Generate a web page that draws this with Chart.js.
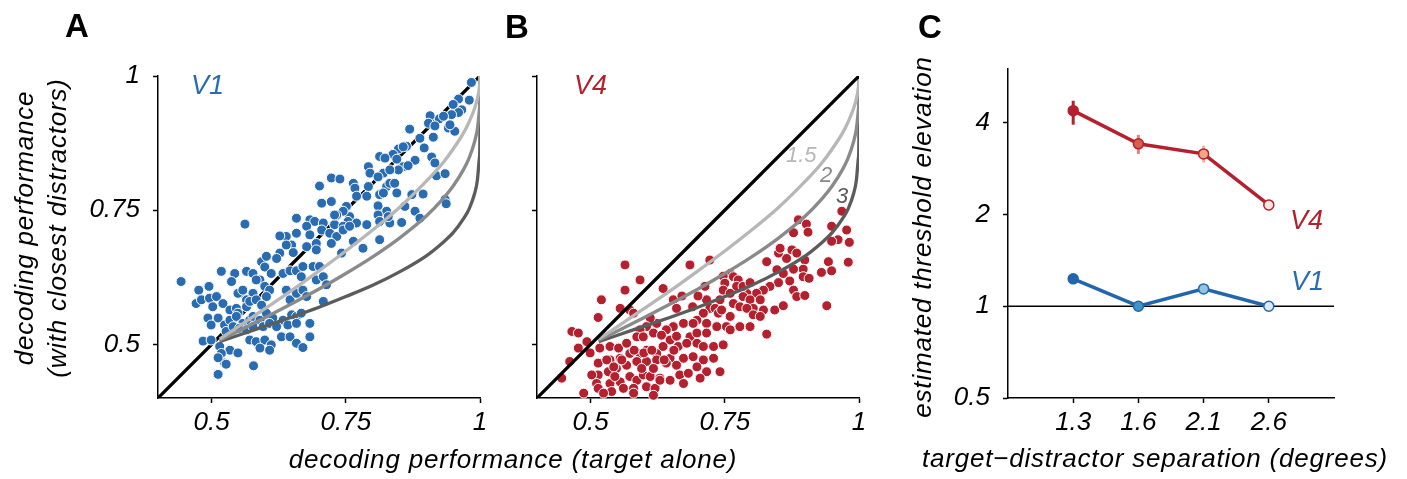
<!DOCTYPE html>
<html>
<head>
<meta charset="utf-8">
<script src="https://cdn.jsdelivr.net/npm/chart.js@4.4.1/dist/chart.umd.min.js"></script>
<style>
  html,body{margin:0;padding:0;background:#fff;}
  body{width:1407px;height:479px;position:relative;overflow:hidden;}
  canvas{position:absolute;top:0;}
  .t{position:absolute;font-family:'Liberation Sans',Arial,sans-serif;line-height:1;white-space:nowrap;color:#000;}
  .it{font-style:italic;}
  .ttl{font-style:italic;font-size:26px;letter-spacing:0.8px;}
  .let{font-weight:bold;font-size:33px;}
  .rot{transform:translate(-50%,-50%) rotate(-90deg);}
</style>
</head>
<body>
<canvas id="cA" width="500" height="479" style="left:0px"></canvas>
<canvas id="cB" width="380" height="479" style="left:500px"></canvas>
<canvas id="cC" width="527" height="479" style="left:880px"></canvas>

<div class="t let" style="left:65px;top:9px">A</div>
<div class="t let" style="left:505px;top:10px">B</div>
<div class="t let" style="left:918px;top:10px">C</div>

<div class="t it" style="left:191px;top:72px;font-size:27px;color:#2a6cb2">V1</div>
<div class="t it" style="left:574px;top:72px;font-size:27px;color:#b5202f">V4</div>
<div class="t it" style="left:1290px;top:207px;font-size:27px;color:#b5202f">V4</div>
<div class="t it" style="left:1291px;top:268px;font-size:27px;color:#2a6cb2">V1</div>

<div class="t it" style="left:786px;top:144px;font-size:22px;color:#b7b7b7">1.5</div>
<div class="t it" style="left:820px;top:164px;font-size:22px;color:#888888">2</div>
<div class="t it" style="left:836px;top:185px;font-size:22px;color:#5c5c5c">3</div>

<div class="t ttl" style="left:213px;top:446px;width:600px;text-align:center">decoding performance (target alone)</div>
<div class="t ttl" style="left:855px;top:445px;width:600px;text-align:center">target−distractor separation (degrees)</div>
<div class="t ttl rot" style="left:24px;top:228px">decoding performance</div>
<div class="t ttl rot" style="left:57px;top:228px">(with closest distractors)</div>
<div class="t ttl rot" style="left:922px;top:237px">estimated threshold elevation</div>

<script>
// ---------------- data ----------------
const scatterTicks = [0.5, 0.75, 1];
const scatterTickLabels = ['0.5', '0.75', '1'];

// V1 sites: [target alone, with closest distractors]
const v1Points = [
[0.984,0.988],[0.980,0.955],[0.960,0.957],[0.950,0.947],[0.966,0.937],[0.960,0.932],[0.947,0.928],[0.924,0.920],[0.932,0.925],[0.907,0.926],
[0.904,0.912],[0.916,0.907],[0.941,0.903],[0.953,0.897],[0.944,0.909],[0.869,0.901],[0.888,0.884],[0.913,0.886],[0.896,0.866],[0.863,0.869],
[0.848,0.864],[0.857,0.868],[0.838,0.854],[0.813,0.850],[0.823,0.847],[0.845,0.845],[0.879,0.843],[0.910,0.849],[0.916,0.838],[0.857,0.831],
[0.866,0.833],[0.848,0.825],[0.792,0.831],[0.795,0.819],[0.820,0.819],[0.810,0.812],[0.832,0.825],[0.826,0.794],[0.764,0.800],[0.767,0.791],
[0.792,0.794],[0.832,0.800],[0.841,0.800],[0.919,0.814],[0.935,0.818],[0.723,0.810],[0.739,0.808],[0.701,0.795],[0.770,0.776],[0.789,0.776],
[0.813,0.779],[0.820,0.782],[0.845,0.782],[0.873,0.779],[0.894,0.780],[0.751,0.757],[0.757,0.738],[0.723,0.766],[0.705,0.763],[0.745,0.748],
[0.733,0.741],[0.810,0.758],[0.826,0.748],[0.860,0.757],[0.879,0.748],[0.888,0.735],[0.754,0.729],[0.770,0.726],[0.789,0.723],[0.810,0.741],
[0.813,0.729],[0.832,0.726],[0.854,0.727],[0.829,0.738],[0.658,0.735],[0.683,0.732],[0.692,0.729],[0.708,0.726],[0.729,0.723],[0.745,0.720],
[0.729,0.741],[0.705,0.713],[0.562,0.724],[0.677,0.720],[0.658,0.707],[0.639,0.701],[0.627,0.702],[0.683,0.704],[0.695,0.688],[0.720,0.707],
[0.733,0.701],[0.745,0.713],[0.757,0.720],[0.677,0.682],[0.649,0.685],[0.652,0.671],[0.695,0.676],[0.723,0.688],[0.742,0.670],[0.764,0.692],
[0.782,0.679],[0.813,0.695],[0.593,0.654],[0.602,0.664],[0.627,0.670],[0.639,0.685],[0.621,0.660],[0.599,0.644],[0.611,0.632],[0.590,0.620],
[0.633,0.632],[0.646,0.637],[0.658,0.637],[0.670,0.645],[0.667,0.626],[0.689,0.645],[0.701,0.645],[0.565,0.636],[0.577,0.632],[0.583,0.620],
[0.599,0.608],[0.608,0.601],[0.577,0.595],[0.565,0.583],[0.552,0.595],[0.543,0.632],[0.518,0.636],[0.537,0.617],[0.549,0.595],[0.558,0.601],
[0.602,0.589],[0.639,0.601],[0.646,0.583],[0.658,0.595],[0.670,0.601],[0.677,0.589],[0.695,0.620],[0.708,0.626],[0.714,0.611],[0.443,0.617],
[0.476,0.601],[0.495,0.608],[0.471,0.576],[0.481,0.583],[0.496,0.586],[0.509,0.589],[0.502,0.570],[0.521,0.576],[0.534,0.564],[0.546,0.567],
[0.549,0.558],[0.565,0.570],[0.571,0.580],[0.583,0.583],[0.593,0.573],[0.493,0.549],[0.512,0.549],[0.499,0.536],[0.524,0.536],[0.534,0.545],
[0.546,0.552],[0.558,0.539],[0.571,0.545],[0.577,0.552],[0.590,0.545],[0.602,0.558],[0.614,0.549],[0.633,0.545],[0.649,0.555],[0.658,0.552],
[0.667,0.558],[0.484,0.506],[0.499,0.508],[0.527,0.524],[0.540,0.533],[0.552,0.530],[0.565,0.527],[0.577,0.533],[0.596,0.533],[0.608,0.539],
[0.621,0.533],[0.642,0.536],[0.658,0.539],[0.683,0.539],[0.515,0.496],[0.534,0.489],[0.549,0.484],[0.571,0.508],[0.583,0.505],[0.599,0.508],
[0.611,0.499],[0.630,0.514],[0.646,0.514],[0.658,0.502],[0.683,0.514],[0.670,0.494],[0.590,0.493],[0.608,0.489],[0.708,0.580],[0.518,0.483],
[0.524,0.465],[0.512,0.475],[0.527,0.463],[0.512,0.444],[0.578,0.460],[0.935,0.770],[0.937,0.762]
];

// V4 sites: [target alone, with closest distractors]
const v4Points = [
[0.968,0.748],[0.949,0.720],[0.977,0.713],[0.961,0.695],[0.949,0.692],[0.982,0.690],[0.887,0.732],[0.902,0.724],[0.878,0.708],[0.943,0.654],
[0.980,0.653],[0.949,0.637],[0.930,0.634],[0.899,0.657],[0.896,0.640],[0.878,0.640],[0.865,0.660],[0.850,0.670],[0.853,0.679],[0.875,0.676],
[0.884,0.670],[0.828,0.654],[0.847,0.639],[0.859,0.632],[0.896,0.626],[0.907,0.623],[0.871,0.618],[0.850,0.615],[0.878,0.601],[0.884,0.589],
[0.899,0.591],[0.940,0.572],[0.828,0.519],[0.834,0.608],[0.822,0.601],[0.809,0.595],[0.791,0.595],[0.784,0.589],[0.797,0.583],[0.816,0.583],
[0.803,0.567],[0.822,0.564],[0.843,0.564],[0.859,0.572],[0.760,0.632],[0.766,0.626],[0.775,0.620],[0.747,0.627],[0.750,0.614],[0.772,0.608],
[0.784,0.608],[0.797,0.615],[0.747,0.601],[0.760,0.595],[0.741,0.583],[0.766,0.576],[0.778,0.570],[0.791,0.567],[0.803,0.555],[0.760,0.552],
[0.778,0.533],[0.797,0.533],[0.816,0.552],[0.713,0.608],[0.716,0.583],[0.722,0.567],[0.732,0.567],[0.738,0.558],[0.744,0.564],[0.710,0.558],
[0.698,0.545],[0.716,0.539],[0.735,0.533],[0.753,0.533],[0.760,0.527],[0.722,0.657],[0.685,0.648],[0.654,0.583],[0.635,0.604],[0.592,0.620],
[0.564,0.648],[0.520,0.583],[0.564,0.601],[0.555,0.567],[0.514,0.550],[0.685,0.514],[0.698,0.521],[0.716,0.521],[0.729,0.496],[0.747,0.499],
[0.741,0.449],[0.729,0.474],[0.660,0.567],[0.673,0.539],[0.691,0.539],[0.654,0.533],[0.641,0.527],[0.623,0.539],[0.611,0.549],[0.604,0.533],
[0.592,0.527],[0.573,0.564],[0.580,0.558],[0.465,0.524],[0.477,0.521],[0.493,0.505],[0.477,0.493],[0.461,0.468],[0.446,0.437],[0.499,0.484],
[0.517,0.493],[0.536,0.496],[0.552,0.493],[0.567,0.502],[0.586,0.514],[0.598,0.514],[0.617,0.521],[0.632,0.517],[0.648,0.508],[0.663,0.496],
[0.679,0.502],[0.698,0.502],[0.710,0.496],[0.514,0.465],[0.514,0.443],[0.536,0.471],[0.555,0.474],[0.573,0.483],[0.592,0.483],[0.604,0.489],
[0.623,0.483],[0.635,0.496],[0.648,0.474],[0.673,0.474],[0.691,0.477],[0.710,0.471],[0.502,0.443],[0.533,0.449],[0.548,0.455],[0.567,0.461],
[0.586,0.468],[0.604,0.468],[0.623,0.471],[0.641,0.465],[0.660,0.461],[0.698,0.458],[0.716,0.449],[0.511,0.427],[0.536,0.427],[0.555,0.430],
[0.573,0.440],[0.586,0.433],[0.598,0.443],[0.611,0.440],[0.629,0.437],[0.648,0.433],[0.666,0.443],[0.682,0.446],[0.704,0.437],[0.673,0.427],
[0.514,0.418],[0.539,0.412],[0.561,0.418],[0.580,0.418],[0.604,0.421],[0.620,0.418],[0.629,0.433],[0.487,0.409],[0.524,0.409],[0.580,0.409],
[0.617,0.405],[0.530,0.471],[0.543,0.458],[0.558,0.471],[0.581,0.489],[0.599,0.484],[0.614,0.489],[0.637,0.471],[0.655,0.489],[0.595,0.455],
[0.617,0.455],[0.545,0.440],[0.660,0.515],[0.700,0.590],[0.690,0.570],[0.670,0.590],[0.905,0.709]
];

// crowding model curves (threshold elevation 1.5, 2, 3)
const curveX   = [0.515,0.55,0.6,0.65,0.7,0.75,0.8,0.85,0.9,0.93,0.95,0.97,0.98,0.99,0.995,0.999,0.9999,1];
const curve15Y = [0.510,0.533,0.567,0.601,0.637,0.674,0.713,0.755,0.804,0.837,0.864,0.895,0.915,0.940,0.957,0.980,0.993,1];
const curve2Y  = [0.5075,0.525,0.550,0.576,0.603,0.632,0.663,0.698,0.739,0.770,0.795,0.827,0.848,0.878,0.901,0.939,0.969,1];
const curve3Y  = [0.505,0.517,0.534,0.551,0.569,0.589,0.610,0.635,0.665,0.689,0.708,0.735,0.753,0.781,0.805,0.848,0.893,1];
const diagonal = [[0.4,0.4],[1,1]];

// panel C
const sepLabels = ['1.3','1.6','2.1','2.6'];
const v4Elev = [4.38, 3.41, 3.16, 2.15];
const v4Lo   = [3.94, 3.16, 2.96, 2.06];
const v4Hi   = [4.72, 3.65, 3.36, 2.22];
const v1Elev = [1.23, 1.00, 1.14, 1.00];
const v1Lo   = [1.19, null, null, null];
const v1Hi   = [1.26, null, null, null];
const elevTicks = [0.5, 1, 2, 4];
const elevTickLabels = ['0.5','1','2','4'];
const refLevel = 1;

// ---------------- styling ----------------
const BLUE = '#2a6cb2', RED = '#b5202f';
const v4Fill = ['#b5202f','#d6604d','#f4a582','#fde9e1'];
const v4ErrCol = ['#b5202f','#e4866c','#f5b393','#fbd3c4'];
const v1Fill = ['#2166ac','#4393c3','#92c5de','#dbeaf4'];
const FONT = "'Liberation Sans', Arial, sans-serif";
Chart.defaults.font.family = FONT;
const tickFont = {family: FONT, size: 26, style: 'italic'};

const pts = arr => arr.map(p => ({x: p[0], y: p[1]}));
const curve = ys => curveX.map((x, i) => ({x, y: ys[i]}));

function axis(opts) {
  return Object.assign({
    type: 'linear',
    grid: {drawOnChartArea: false, drawTicks: true, tickLength: 5, color: '#000', tickWidth: 1.5},
    border: {display: true, color: '#000', width: 1.5},
  }, opts);
}

function scatterScales(showYLabels, yWidth) {
  return {
    x: axis({
      min: 0.4, max: 1,
      afterBuildTicks: s => { s.ticks = scatterTicks.map(v => ({value: v})); },
      afterFit: s => { s.height = 50; },
      ticks: {font: tickFont, color: '#000', padding: 4, maxRotation: 0, minRotation: 0, autoSkip: false,
              callback: (v, i) => scatterTickLabels[i]}
    }),
    y: axis({
      min: 0.4, max: 1,
      afterBuildTicks: s => { s.ticks = scatterTicks.map(v => ({value: v})); },
      afterFit: s => { s.width = yWidth; },
      ticks: {font: tickFont, color: '#000', padding: 13, autoSkip: false,
              callback: (v, i) => showYLabels ? scatterTickLabels[i] : ''}
    })
  };
}

function lineDs(data, color, order) {
  return {data, showLine: true, borderColor: color, borderWidth: 3.3, pointRadius: 0,
          cubicInterpolationMode: 'monotone', order, fill: false};
}

const commonOpts = {
  responsive: false, animation: false, devicePixelRatio: 1,
  plugins: {legend: {display: false}, tooltip: {enabled: false}},
  events: []
};

// Panel A
new Chart(document.getElementById('cA'), {
  type: 'scatter',
  data: {datasets: [
    lineDs(curve(curve15Y), '#b7b7b7', 1),
    lineDs(curve(curve2Y), '#8a8a8a', 2),
    lineDs(curve(curve3Y), '#5c5c5c', 3),
    {data: pts(v1Points), backgroundColor: BLUE, borderColor: '#fff', borderWidth: 1, pointRadius: 5, order: 5, clip: false},
    lineDs(pts(diagonal), '#000', 6)
  ]},
  options: Object.assign({}, commonOpts, {
    layout: {padding: {left: 0, top: 76, right: 20, bottom: 31}},
    scales: scatterScales(true, 158)
  })
});

// Panel B
new Chart(document.getElementById('cB'), {
  type: 'scatter',
  data: {datasets: [
    lineDs(pts(diagonal), '#000', 0),
    lineDs(curve(curve15Y), '#b7b7b7', 1),
    lineDs(curve(curve2Y), '#8a8a8a', 2),
    lineDs(curve(curve3Y), '#5c5c5c', 3),
    {data: pts(v4Points), backgroundColor: RED, borderColor: '#fff', borderWidth: 1, pointRadius: 5, order: 5, clip: false}
  ]},
  options: Object.assign({}, commonOpts, {
    layout: {padding: {left: 0, top: 76, right: 21, bottom: 31}},
    scales: scatterScales(false, 37)
  })
});

// Panel C
const errorBars = {
  id: 'errorBars',
  beforeDatasetsDraw(chart) {
    const {ctx} = chart, x = chart.scales.x, y = chart.scales.y;
    ctx.save();
    ctx.lineWidth = 3;
    const draw = (lo, hi, cols) => lo.forEach((l, i) => {
      if (l == null) return;
      const px = x.getPixelForValue(i + 1);
      ctx.strokeStyle = cols[i];
      ctx.beginPath();
      ctx.moveTo(px, y.getPixelForValue(l));
      ctx.lineTo(px, y.getPixelForValue(hi[i]));
      ctx.stroke();
    });
    draw(v4Lo, v4Hi, v4ErrCol);
    draw(v1Lo, v1Hi, v1Fill.map(() => '#2166ac'));
    ctx.restore();
  }
};

new Chart(document.getElementById('cC'), {
  type: 'scatter',
  data: {datasets: [
    {data: v4Elev.map((v, i) => ({x: i + 1, y: v})), showLine: true, borderColor: RED, borderWidth: 3.5,
     pointRadius: 5, pointBackgroundColor: v4Fill, pointBorderColor: RED, pointBorderWidth: 1.5, order: 1},
    {data: v1Elev.map((v, i) => ({x: i + 1, y: v})), showLine: true, borderColor: '#2166ac', borderWidth: 3.5,
     pointRadius: 5, pointBackgroundColor: v1Fill, pointBorderColor: '#2166ac', pointBorderWidth: 1.5, order: 2},
    {data: [{x: 0, y: refLevel}, {x: sepLabels.length + 1, y: refLevel}], showLine: true, borderColor: '#000',
     borderWidth: 1.5, pointRadius: 0, order: 3}
  ]},
  options: Object.assign({}, commonOpts, {
    layout: {padding: {left: 0, top: 69, right: 73, bottom: 31}},
    scales: {
      x: axis({
        min: 0, max: sepLabels.length + 1,
        afterBuildTicks: s => { s.ticks = sepLabels.map((l, i) => ({value: i + 1})); },
        afterFit: s => { s.height = 50; },
        ticks: {font: tickFont, color: '#000', padding: 4, maxRotation: 0, minRotation: 0, autoSkip: false,
                callback: (v, i) => sepLabels[i]}
      }),
      y: axis({
        type: 'logarithmic', min: 0.5, max: 6,
        afterBuildTicks: s => { s.ticks = elevTicks.map(v => ({value: v})); },
        afterFit: s => { s.width = 128; },
        ticks: {font: tickFont, color: '#000', padding: 13, autoSkip: false,
                callback: (v, i) => elevTickLabels[i]}
      })
    }
  }),
  plugins: [errorBars]
});
</script>
</body>
</html>
